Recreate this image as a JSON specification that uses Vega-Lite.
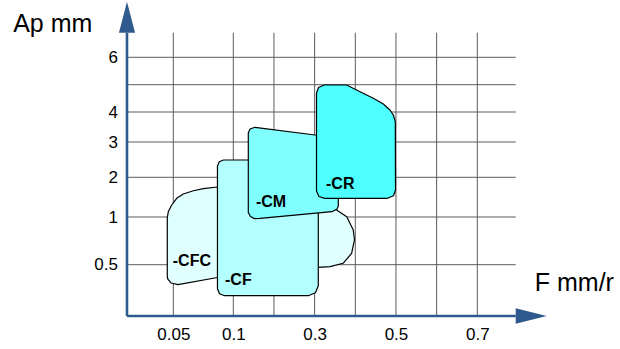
{
  "$schema": "https://vega.github.io/schema/vega-lite/v6.json",
  "width": 420,
  "height": 316,
  "autosize": {"type": "none"},
  "padding": {"left": 127, "top": 0, "right": 73, "bottom": 33},
  "background": "white",
  "config": {"view": {"stroke": null}},
  "datasets": {
    "shapes": [
      {"s": "CFC", "i": 1, "f": 0.0435, "ap": 0.990},
      {"s": "CFC", "i": 2, "f": 0.0446, "ap": 1.134},
      {"s": "CFC", "i": 3, "f": 0.0483, "ap": 1.302},
      {"s": "CFC", "i": 4, "f": 0.0528, "ap": 1.471},
      {"s": "CFC", "i": 5, "f": 0.0583, "ap": 1.579},
      {"s": "CFC", "i": 6, "f": 0.0667, "ap": 1.662},
      {"s": "CFC", "i": 7, "f": 0.075, "ap": 1.713},
      {"s": "CFC", "i": 8, "f": 0.0868, "ap": 1.756},
      {"s": "CFC", "i": 9, "f": 0.313, "ap": 1.353},
      {"s": "CFC", "i": 10, "f": 0.354, "ap": 1.176},
      {"s": "CFC", "i": 11, "f": 0.379, "ap": 1.008},
      {"s": "CFC", "i": 12, "f": 0.395, "ap": 0.864},
      {"s": "CFC", "i": 13, "f": 0.398, "ap": 0.759},
      {"s": "CFC", "i": 14, "f": 0.391, "ap": 0.619},
      {"s": "CFC", "i": 15, "f": 0.370, "ap": 0.515},
      {"s": "CFC", "i": 16, "f": 0.338, "ap": 0.481},
      {"s": "CFC", "i": 17, "f": 0.308, "ap": 0.473},
      {"s": "CFC", "i": 18, "f": 0.0868, "ap": 0.375},
      {"s": "CFC", "i": 19, "f": 0.0539, "ap": 0.305},
      {"s": "CFC", "i": 20, "f": 0.0475, "ap": 0.322},
      {"s": "CFC", "i": 21, "f": 0.0443, "ap": 0.356},
      {"s": "CFC", "i": 22, "f": 0.0435, "ap": 0.380},
      {"s": "CF", "i": 1, "f": 0.0868, "ap": 2.320},
      {"s": "CF", "i": 2, "f": 0.0883, "ap": 2.439},
      {"s": "CF", "i": 3, "f": 0.0918, "ap": 2.490},
      {"s": "CF", "i": 4, "f": 0.2935, "ap": 2.490},
      {"s": "CF", "i": 5, "f": 0.309, "ap": 2.320},
      {"s": "CF", "i": 6, "f": 0.309, "ap": 0.295},
      {"s": "CF", "i": 7, "f": 0.302, "ap": 0.226},
      {"s": "CF", "i": 8, "f": 0.2844, "ap": 0.198},
      {"s": "CF", "i": 9, "f": 0.0927, "ap": 0.198},
      {"s": "CF", "i": 10, "f": 0.0885, "ap": 0.217},
      {"s": "CF", "i": 11, "f": 0.0868, "ap": 0.266},
      {"s": "CM", "i": 1, "f": 0.1369, "ap": 3.300},
      {"s": "CM", "i": 2, "f": 0.1411, "ap": 3.433},
      {"s": "CM", "i": 3, "f": 0.1534, "ap": 3.490},
      {"s": "CM", "i": 4, "f": 0.3009, "ap": 3.233},
      {"s": "CM", "i": 5, "f": 0.3427, "ap": 3.150},
      {"s": "CM", "i": 6, "f": 0.3582, "ap": 2.972},
      {"s": "CM", "i": 7, "f": 0.3582, "ap": 1.277},
      {"s": "CM", "i": 8, "f": 0.355, "ap": 1.202},
      {"s": "CM", "i": 9, "f": 0.3427, "ap": 1.134},
      {"s": "CM", "i": 10, "f": 0.1657, "ap": 0.986},
      {"s": "CM", "i": 11, "f": 0.1521, "ap": 0.983},
      {"s": "CM", "i": 12, "f": 0.1423, "ap": 1.013},
      {"s": "CM", "i": 13, "f": 0.1369, "ap": 1.113},
      {"s": "CR", "i": 1, "f": 0.3046, "ap": 4.696},
      {"s": "CR", "i": 2, "f": 0.3095, "ap": 4.897},
      {"s": "CR", "i": 3, "f": 0.323, "ap": 4.989},
      {"s": "CR", "i": 4, "f": 0.3788, "ap": 4.989},
      {"s": "CR", "i": 5, "f": 0.4116, "ap": 4.744},
      {"s": "CR", "i": 6, "f": 0.4443, "ap": 4.502},
      {"s": "CR", "i": 7, "f": 0.4689, "ap": 4.293},
      {"s": "CR", "i": 8, "f": 0.4853, "ap": 4.073},
      {"s": "CR", "i": 9, "f": 0.4935, "ap": 3.900},
      {"s": "CR", "i": 10, "f": 0.4984, "ap": 3.677},
      {"s": "CR", "i": 11, "f": 0.4989, "ap": 1.680},
      {"s": "CR", "i": 12, "f": 0.4939, "ap": 1.534},
      {"s": "CR", "i": 13, "f": 0.4792, "ap": 1.471},
      {"s": "CR", "i": 14, "f": 0.3252, "ap": 1.471},
      {"s": "CR", "i": 15, "f": 0.3105, "ap": 1.516},
      {"s": "CR", "i": 16, "f": 0.3046, "ap": 1.655}
    ],
    "labels": [
      {"t": "-CFC", "f": 0.0494, "ap": 0.539},
      {"t": "-CF", "f": 0.0931, "ap": 0.351},
      {"t": "-CM", "f": 0.1558, "ap": 1.385},
      {"t": "-CR", "f": 0.328, "ap": 1.839}
    ],
    "hgrid": [{"ap": 0.5}, {"ap": 1}, {"ap": 2}, {"ap": 3}, {"ap": 4}, {"ap": 5}, {"ap": 6}],
    "vgrid": [{"f": 0.05}, {"f": 0.1}, {"f": 0.2}, {"f": 0.3}, {"f": 0.4}, {"f": 0.5}, {"f": 0.6}, {"f": 0.7}]
  },
  "layer": [
    {
      "data": {"name": "hgrid"},
      "mark": {"type": "rule", "color": "#5a5a5a", "strokeWidth": 1},
      "encoding": {
        "x": {"datum": 0, "type": "quantitative", "scale": {"domain": [0, 0.05, 0.1, 0.7, 0.8, 0.9], "range": [0, 46.3, 106.3, 350.3, 388.7, 419.7], "zero": false, "nice": false}},
        "x2": {"datum": 0.8},
        "y": {"field": "ap", "type": "quantitative", "scale": {"domain": [0, 0.5, 1, 2, 3, 4, 5, 6, 7, 8], "range": [316, 264.7, 217, 177.3, 142, 112, 84.7, 57.3, 32.7, 2], "zero": false, "nice": false}}
      }
    },
    {
      "data": {"name": "vgrid"},
      "mark": {"type": "rule", "color": "#5a5a5a", "strokeWidth": 1},
      "encoding": {
        "x": {"field": "f", "type": "quantitative", "scale": {"domain": [0, 0.05, 0.1, 0.7, 0.8, 0.9], "range": [0, 46.3, 106.3, 350.3, 388.7, 419.7], "zero": false, "nice": false}},
        "y": {"datum": 0, "type": "quantitative", "scale": {"domain": [0, 0.5, 1, 2, 3, 4, 5, 6, 7, 8], "range": [316, 264.7, 217, 177.3, 142, 112, 84.7, 57.3, 32.7, 2], "zero": false, "nice": false}},
        "y2": {"datum": 7}
      }
    },
    {
      "data": {"name": "shapes"},
      "transform": [{"filter": "datum.s === 'CFC'"}],
      "mark": {"type": "line", "interpolate": "linear-closed", "fill": "#E0FFFF", "stroke": "black", "strokeWidth": 1.2, "strokeJoin": "round"},
      "encoding": {
        "x": {
          "field": "f", "type": "quantitative",
          "scale": {"domain": [0, 0.05, 0.1, 0.7, 0.8, 0.9], "range": [0, 46.3, 106.3, 350.3, 388.7, 419.7], "zero": false, "nice": false},
          "axis": {
            "values": [0.05, 0.1, 0.3, 0.5, 0.7], "format": "~g",
            "domain": false, "ticks": false, "grid": false,
            "labelFont": "Liberation Sans", "labelFontSize": 17, "labelColor": "black",
            "labelPadding": 10, "labelFlush": false, "labelOverlap": false,
            "title": "F mm/r", "titleFont": "Liberation Sans", "titleFontSize": 25, "titleFontWeight": "normal", "titleColor": "black",
            "titleX": 407.3, "titleY": -25.3, "titleAlign": "left", "titleBaseline": "alphabetic", "titleAngle": 0
          }
        },
        "y": {
          "field": "ap", "type": "quantitative",
          "scale": {"domain": [0, 0.5, 1, 2, 3, 4, 5, 6, 7, 8], "range": [316, 264.7, 217, 177.3, 142, 112, 84.7, 57.3, 32.7, 2], "zero": false, "nice": false},
          "axis": {
            "values": [0.5, 1, 2, 3, 4, 6], "format": "~g",
            "domain": false, "ticks": false, "grid": false,
            "labelFont": "Liberation Sans", "labelFontSize": 17, "labelColor": "black",
            "labelPadding": 9.5, "labelFlush": false, "labelOverlap": false,
            "title": "Ap mm", "titleFont": "Liberation Sans", "titleFontSize": 25, "titleFontWeight": "normal", "titleColor": "black",
            "titleX": -114.3, "titleY": 31.7, "titleAlign": "left", "titleBaseline": "alphabetic", "titleAngle": 0
          }
        },
        "order": {"field": "i", "type": "quantitative"}
      }
    },
    {
      "data": {"name": "shapes"},
      "transform": [{"filter": "datum.s === 'CF'"}],
      "mark": {"type": "line", "interpolate": "linear-closed", "fill": "#B3FFFF", "stroke": "black", "strokeWidth": 1.2, "strokeJoin": "round"},
      "encoding": {
        "x": {"field": "f", "type": "quantitative"},
        "y": {"field": "ap", "type": "quantitative"},
        "order": {"field": "i", "type": "quantitative"}
      }
    },
    {
      "data": {"name": "shapes"},
      "transform": [{"filter": "datum.s === 'CM'"}],
      "mark": {"type": "line", "interpolate": "linear-closed", "fill": "#80FFFF", "stroke": "black", "strokeWidth": 1.2, "strokeJoin": "round"},
      "encoding": {
        "x": {"field": "f", "type": "quantitative"},
        "y": {"field": "ap", "type": "quantitative"},
        "order": {"field": "i", "type": "quantitative"}
      }
    },
    {
      "data": {"name": "shapes"},
      "transform": [{"filter": "datum.s === 'CR'"}],
      "mark": {"type": "line", "interpolate": "linear-closed", "fill": "#4DFFFF", "stroke": "black", "strokeWidth": 1.2, "strokeJoin": "round"},
      "encoding": {
        "x": {"field": "f", "type": "quantitative"},
        "y": {"field": "ap", "type": "quantitative"},
        "order": {"field": "i", "type": "quantitative"}
      }
    },
    {
      "data": {"name": "labels"},
      "mark": {"type": "text", "align": "left", "baseline": "middle", "font": "Liberation Sans", "fontSize": 16, "fontWeight": "bold", "color": "black"},
      "encoding": {
        "x": {"field": "f", "type": "quantitative"},
        "y": {"field": "ap", "type": "quantitative"},
        "text": {"field": "t"}
      }
    },
    {
      "data": {"values": [{}]},
      "mark": {"type": "rule", "color": "#2F5A8E", "strokeWidth": 2.6},
      "encoding": {"x": {"datum": 0, "type": "quantitative"}, "y": {"datum": 0, "type": "quantitative"}, "y2": {"datum": 7}}
    },
    {
      "data": {"values": [{}]},
      "mark": {"type": "rule", "color": "#2F5A8E", "strokeWidth": 2.6},
      "encoding": {"x": {"datum": 0, "type": "quantitative"}, "x2": {"datum": 0.8}, "y": {"datum": 0, "type": "quantitative"}}
    },
    {
      "data": {"values": [{}]},
      "mark": {"type": "point", "shape": "M0,-1L0.52,1L-0.52,1Z", "size": 961, "filled": true, "color": "#2F5A8E", "opacity": 1, "strokeWidth": 0},
      "encoding": {"x": {"datum": 0, "type": "quantitative"}, "y": {"datum": 7.5, "type": "quantitative"}}
    },
    {
      "data": {"values": [{}]},
      "mark": {"type": "point", "shape": "M1,0L-1,-0.5L-1,0.5Z", "size": 961, "filled": true, "color": "#2F5A8E", "opacity": 1, "strokeWidth": 0},
      "encoding": {"x": {"datum": 0.85, "type": "quantitative"}, "y": {"datum": 0, "type": "quantitative"}}
    }
  ]
}
